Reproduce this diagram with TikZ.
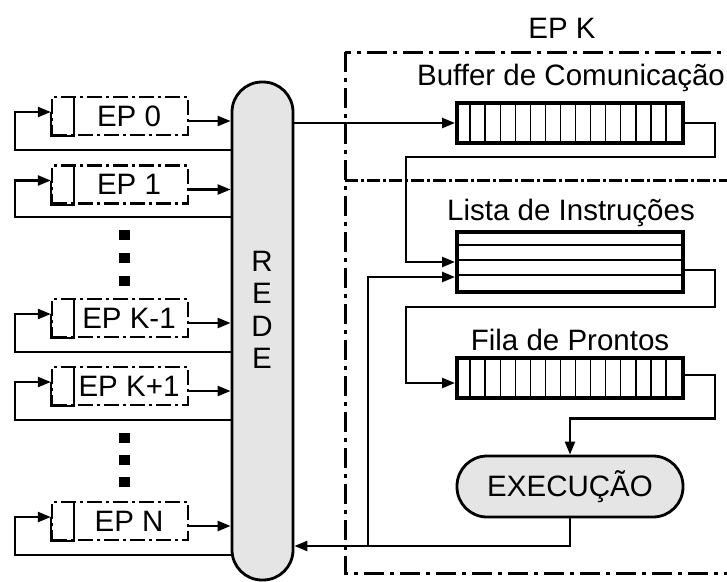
\documentclass[tikz,border=0pt]{standalone}
\usepackage{fontspec}
\setmainfont{Liberation Sans}
\usetikzlibrary{arrows.meta}

\tikzset{
  wire/.style={line width=2.4pt},
  conn/.style={line width=2.4pt,-{Triangle[length=13pt,width=10pt]}},
  epbox/.style={draw,line width=2.4pt,dash pattern=on 15pt off 4pt on 3pt off 4pt,minimum width=136pt,minimum height=38pt,inner sep=0pt},
  queue/.style={draw,line width=4pt,minimum width=226pt,inner sep=0pt},
  cell/.style={line width=1.3pt},
  shaded/.style={draw,line width=2.8pt,fill=black!10,rounded corners=30pt,inner sep=0pt},
  groupbox/.style={line width=3pt,dash pattern=on 20pt off 6pt on 4pt off 6pt},
  divider/.style={line width=3pt,dash pattern=on 13pt off 3pt on 3pt off 3pt},
}

\begin{document}
\begin{tikzpicture}[x=1pt,y=-1pt,font=\fontsize{29.5}{34}\selectfont]
% 727pt x 581pt, one pixel per point
\useasboundingbox (0,0) rectangle (727,581);
\clip (0,0) rectangle (727,581);

% network
\node[shaded,minimum width=61pt,minimum height=498pt] (rede) at (262.5,331) {};
\node[align=center,font=\fontsize{29.5}{32.5}\selectfont] (redetxt) at (262,310) {R\\E\\D\\E};

% EP 0
\node[epbox] (ep0) at (120,116) {};
\node (ep0txt) at ([xshift=9pt]ep0.center) {EP 0};
\draw[wire] ([yshift=4pt]ep0.west) |- ([xshift=23pt]ep0.south west) -- ([xshift=23pt]ep0.north west);
\draw[conn] ([yshift=-5pt]ep0.east) -- ([yshift=-5pt]ep0.east -| rede.west);
\draw[conn] (rede.west |- 0,150) -- (15,150) |- ([yshift=4pt]ep0.west);

% EP 1
\node[epbox] (ep1) at (120,184.5) {};
\node (ep1txt) at ([xshift=9pt]ep1.center) {EP 1};
\draw[wire] ([yshift=4pt]ep1.west) |- ([xshift=23pt]ep1.south west) -- ([xshift=23pt]ep1.north west);
\draw[conn] ([yshift=-5pt]ep1.east) -- ([yshift=-5pt]ep1.east -| rede.west);
\draw[conn] (rede.west |- 0,217) -- (15,217) |- ([yshift=4pt]ep1.west);

\fill (118.5,230) rectangle ++(11,10);
\fill (118.5,253) rectangle ++(11,10);
\fill (118.5,276) rectangle ++(11,10);

% EP K-1
\node[epbox] (epkm) at (120,318) {};
\node (epkmtxt) at ([xshift=9pt]epkm.center) {EP K-1};
\draw[wire] ([yshift=4pt]epkm.west) |- ([xshift=23pt]epkm.south west) -- ([xshift=23pt]epkm.north west);
\draw[conn] ([yshift=-5pt]epkm.east) -- ([yshift=-5pt]epkm.east -| rede.west);
\draw[conn] (rede.west |- 0,352) -- (15,352) |- ([yshift=4pt]epkm.west);

% EP K+1
\node[epbox] (epkp) at (120,386) {};
\node (epkptxt) at ([xshift=9pt]epkp.center) {EP K+1};
\draw[wire] ([yshift=4pt]epkp.west) |- ([xshift=23pt]epkp.south west) -- ([xshift=23pt]epkp.north west);
\draw[conn] ([yshift=-5pt]epkp.east) -- ([yshift=-5pt]epkp.east -| rede.west);
\draw[conn] (rede.west |- 0,420) -- (15,420) |- ([yshift=4pt]epkp.west);

\fill (118.5,433) rectangle ++(11,10);
\fill (118.5,455) rectangle ++(11,10);
\fill (118.5,477) rectangle ++(11,10);

% EP N
\node[epbox] (epn) at (120,521) {};
\node (epntxt) at ([xshift=9pt]epn.center) {EP N};
\draw[wire] ([yshift=4pt]epn.west) |- ([xshift=23pt]epn.south west) -- ([xshift=23pt]epn.north west);
\draw[conn] ([yshift=-5pt]epn.east) -- ([yshift=-5pt]epn.east -| rede.west);
\draw[conn] (rede.west |- 0,555) -- (15,555) |- ([yshift=4pt]epn.west);

% EP K
\draw[groupbox] (345,52) rectangle (745,573);
\draw[divider] (345,180) -- (745,180);
\node (epklbl) at (562,28) {EP K};

\node (buflbl) at (571,78) {Buffer de Comunicação};
\node[queue,minimum height=40pt] (buf) at (570,123) {};
\foreach \i in {1,...,14}
  \draw[cell] ([xshift={\i*15.07pt}]buf.north west) -- ([xshift={\i*15.07pt}]buf.south west);

\node (listalbl) at (571,213) {Lista de Instruções};
\node[queue,minimum height=60pt] (lista) at (570,262) {};
\foreach \i in {1,2,3}
  \draw[cell] ([yshift={-\i*15pt}]lista.north west) -- ([yshift={-\i*15pt}]lista.north east);

\node (filalbl) at (570,340) {Fila de Prontos};
\node[queue,minimum height=40pt] (fila) at (570,378) {};
\foreach \i in {1,...,14}
  \draw[cell] ([xshift={\i*15.07pt}]fila.north west) -- ([xshift={\i*15.07pt}]fila.south west);

\node[shaded,minimum width=226pt,minimum height=61pt] (exec) at (570,486.5) {EXECUÇÃO};

\draw[conn] (rede.east |- buf.west) -- (buf.west);
\draw[conn] (buf.east) -- ++(30,0) |- (406,157) |- (lista.west);
\draw[conn] ([yshift=-8pt]lista.east) -- ++(30,0) |- (406,307) |- ([yshift=-5pt]fila.west);
\draw[conn] ([yshift=3pt]fila.east) -- ++(30,0) |- ([yshift=36pt]exec.north) -- (exec.north);
\coordinate (ret) at (368,546);
\draw[conn] (exec.south) |- (rede.east |- ret);
\draw[conn] (ret) |- ([yshift=-15pt]lista.west);
\end{tikzpicture}
\end{document}
